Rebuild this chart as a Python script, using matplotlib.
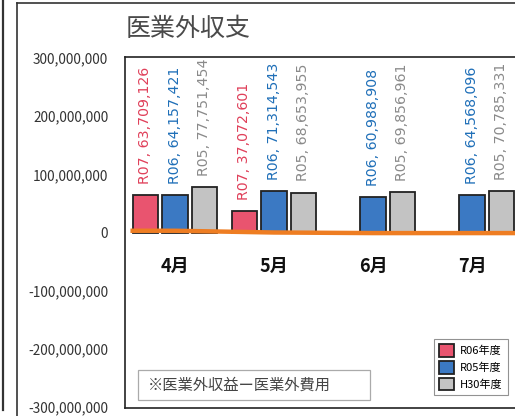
import numpy as np
import matplotlib
matplotlib.use("Agg")
import matplotlib.pyplot as plt
from matplotlib.lines import Line2D
from matplotlib.patches import Rectangle

plt.rcParams['font.family'] = ['Noto Sans CJK JP', 'DejaVu Sans']

# data
months = ['4月', '5月', '6月', '7月']
r07 = [63709126, 37072601, np.nan, np.nan]
r06 = [64157421, 71314543, 60988908, 64568096]
r05 = [77751454, 68653955, 69856961, 70785331]
net = [3000000, 0, -1000000, -1000000]     # orange line (医業外収益−医業外費用)
series_names = ['R07', 'R06', 'R05']
legend_names = ['R06年度', 'R05年度', 'H30年度']
yticks = [-300000000, -200000000, -100000000, 0, 100000000, 200000000, 300000000]

bar_cols = ['#e9546f', '#3b79c3', '#c3c3c3']
lab_cols = ['#e0405a', '#1f6fb8', '#8a8a8a']
lab_weights = ['medium', 'medium', 'normal']

W, H = 515, 416
fig = plt.figure(figsize=(W / 100, H / 100), dpi=100)
ax = fig.add_axes([125 / W, 8 / H, 396 / W, 351 / H])

x = np.arange(len(months))
off = 0.298
width = 0.262
for i, vals in enumerate([r07, r06, r05]):
    bars = ax.bar(x + (i - 1) * off, vals, width, color=bar_cols[i],
                  edgecolor='#222222', linewidth=1.3, zorder=2,
                  label=legend_names[i])
    for xi, v in zip(x + (i - 1) * off, vals):
        if np.isnan(v):
            continue
        ax.annotate(f"{series_names[i]}, {v:,.0f}", (xi, v),
                    xytext=(0, 8), textcoords='offset points',
                    rotation=90, ha='center', va='bottom', fontsize=10.2,
                    color=lab_cols[i], fontweight=lab_weights[i],
                    family=['DejaVu Sans'])

# orange line, stretched to the plot edges
lx = np.r_[-0.45, x, 3.5]
ly = np.r_[net[0], net, net[-1]]
ax.plot(lx, ly, color='#ee7d22', lw=3.2, zorder=3, solid_capstyle='butt')

for xi, m in zip(x, months):
    ax.text(xi, -58000000, m, ha='center', va='center', fontsize=13,
            fontweight='bold', color='#111111')

ax.set_xlim(-0.505, 3.495)
ax.set_ylim(-302000000, 302000000)
ax.set_xticks([])
ax.set_yticks(yticks)
ax.set_yticklabels([f"{t:,}" for t in yticks], fontsize=9.8, color='#333333')
ax.tick_params(axis='y', length=0, pad=12)
for s in ax.spines.values():
    s.set_color('#222222')
    s.set_linewidth(1.2)

leg = ax.legend(loc='lower right', bbox_to_anchor=(0.98, 0.02),
                fontsize=8, frameon=True, fancybox=False,
                edgecolor='#777777', handlelength=1.4, handleheight=1.4,
                labelspacing=0.35, borderpad=0.45, handletextpad=0.5)
leg.get_frame().set_linewidth(0.8)

ax.add_patch(Rectangle((0.033, 0.023), 0.586, 0.085, transform=ax.transAxes,
                       fill=False, edgecolor='#aaaaaa', lw=0.9, zorder=4))
ax.text(0.058, 0.066, '※医業外収益ー医業外費用', transform=ax.transAxes,
        ha='left', va='center', fontsize=11, color='#444444')

fig.text(126 / W, 1 - 29 / H, '医業外収支', ha='left', va='center',
         fontsize=18, color='#4a4a4a')

# scan frame lines
fig.add_artist(Line2D([3 / W, 3 / W], [1 - 410 / H, 1.0], color='#333333', lw=1.6))
fig.add_artist(Line2D([17 / W, 17 / W], [0, 1 - 3 / H], color='#333333', lw=1.2))
fig.add_artist(Line2D([17 / W, 1.0], [1 - 3 / H, 1 - 3 / H], color='#333333', lw=1.2))

fig.savefig('out.png', dpi=100)
